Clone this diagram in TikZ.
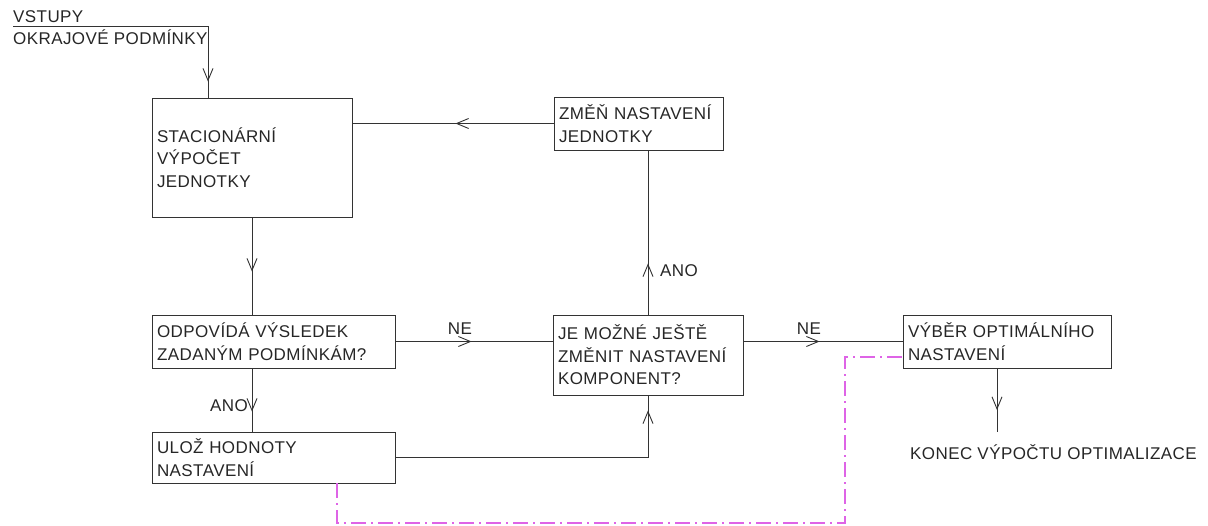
\documentclass[tikz,border=0pt]{standalone}
\usepackage{fontspec}
\setmainfont{Liberation Sans}[LetterSpace=2.5]
\usetikzlibrary{arrows.meta,decorations.markings}
\definecolor{limitcol}{RGB}{222,100,230}

\begin{document}
\begin{tikzpicture}[x=1pt,y=-1pt,
	every node/.style={font=\fontsize{17}{22.5}\selectfont,text=black!85},
	box/.style={draw=black!80,line width=0.9pt,align=left,inner xsep=5pt,inner ysep=0pt},
	lbl/.style={inner sep=0pt},
	conn/.style={draw=black!80,line width=0.9pt},
	barb/.style={postaction={decorate},decoration={markings,
		mark=at position #1 with {\arrow{Straight Barb[length=12pt,width=10pt]}}}},
	limit/.style={draw=limitcol,line width=1.2pt,dash pattern=on 15pt off 5pt on 2pt off 5pt}]
	\useasboundingbox (0,0) rectangle (1208,526);
	% boxes
	\node[box,text width=190pt,minimum height=119pt] (stac) at (252,157.5) {STACIONÁRNÍ\\VÝPOČET\\JEDNOTKY};
	\node[box,text width=159pt,minimum height=53pt] (zmen) at (638.5,123.5) {ZMĚŇ NASTAVENÍ\\JEDNOTKY};
	\node[box,text width=233pt,minimum height=53pt] (odp) at (273.5,341.5) {ODPOVÍDÁ VÝSLEDEK\\ZADANÝM PODMÍNKÁM?};
	\node[box,text width=233pt,minimum height=51pt] (ulo) at (273.5,457.5) {ULOŽ HODNOTY\\NASTAVENÍ};
	\node[box,text width=180pt,minimum height=80pt] (je) at (648,355) {JE MOŽNÉ JEŠTĚ\\ZMĚNIT NASTAVENÍ\\KOMPONENT?};
	\node[box,text width=198pt,minimum height=53pt] (vyb) at (1007,341.5) {VÝBĚR OPTIMÁLNÍHO\\NASTAVENÍ};
	% free texts
	\node[lbl,anchor=base west] (vstupy) at (13,23) {VSTUPY};
	\node[lbl,anchor=base west] (okraj) at (13,45) {OKRAJOVÉ PODMÍNKY};
	\node[lbl,anchor=base west] (konec) at (910,460) {KONEC VÝPOČTU OPTIMALIZACE};
	\node[lbl,anchor=base] (ne1) at (460,335) {NE};
	\node[lbl,anchor=base] (ne2) at (809,335) {NE};
	\node[lbl,anchor=base east] (ano1) at (248,412) {ANO};
	\node[lbl,anchor=base west] (ano2) at (660,277) {ANO};
	\coordinate (start) at (13,26);
	\coordinate (stop) at (997,432);
	\coordinate (lim) at (845,523);
	% connectors
	\draw[conn,barb=-16pt] (start) -| ([xshift=-44pt]stac.north);
	\draw[conn,barb=-43pt] (stac.south) -- (odp.north -| stac.south);
	\draw[conn,barb=-20pt] (odp.south -| stac.south) -- (ulo.north -| stac.south);
	\draw[conn,barb=-81pt] (odp.east) -- (je.west |- odp.east);
	\draw[conn,barb=-15pt] (ulo.east) -| (je.south);
	\draw[conn,barb=-113pt] (je.north) -- (zmen.south -| je.north);
	\draw[conn,barb=-103pt] (zmen.west) -- (stac.east |- zmen.west);
	\draw[conn,barb=-83pt] (je.east |- vyb.west) -- (vyb.west);
	\draw[conn,barb=-22pt] (vyb.south -| stop) -- (stop);
	\draw[limit] ([xshift=63.5pt]ulo.south) |- (lim) |- ([yshift=-15.5pt]vyb.west);
\end{tikzpicture}
\end{document}
